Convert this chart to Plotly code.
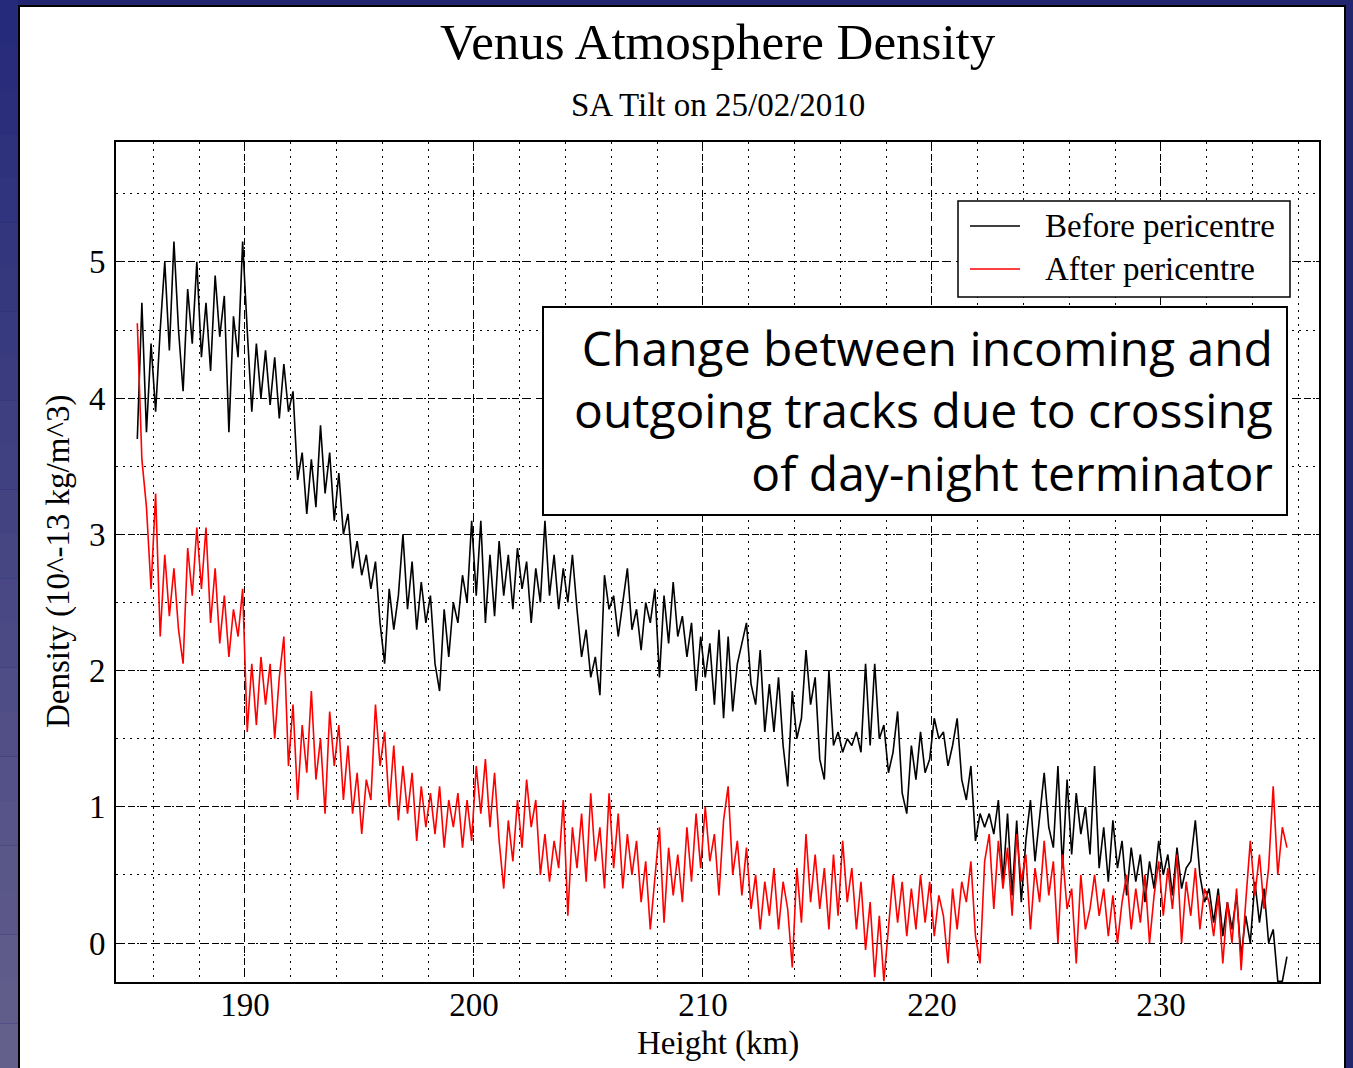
import plotly.graph_objects as go

# ---------------- data ----------------
height_start = 185.3   # km, first sample
height_step = 0.2      # km between samples

before_pericentre = [
    3.7, 4.7, 3.75, 4.4, 3.9,
    4.5, 5.0, 4.35, 5.15, 4.5,
    4.05, 4.8, 4.4, 5.0, 4.3,
    4.7, 4.2, 4.9, 4.45, 4.75,
    3.75, 4.6, 4.3, 5.15, 4.5,
    3.9, 4.4, 4.0, 4.35, 3.95,
    4.3, 3.85, 4.25, 3.9, 4.05,
    3.4, 3.6, 3.15, 3.55, 3.2,
    3.8, 3.3, 3.6, 3.1, 3.45,
    3.0, 3.15, 2.75, 2.95, 2.7,
    2.85, 2.6, 2.8, 2.35, 2.05,
    2.6, 2.3, 2.55, 3.0, 2.45,
    2.8, 2.3, 2.65, 2.35, 2.55,
    2.05, 1.85, 2.45, 2.1, 2.5,
    2.35, 2.7, 2.5, 3.1, 2.55,
    3.1, 2.35, 2.85, 2.4, 2.95,
    2.55, 2.85, 2.45, 2.9, 2.6,
    2.8, 2.35, 2.75, 2.5, 3.1,
    2.55, 2.85, 2.45, 2.75, 2.5,
    2.85, 2.45, 2.1, 2.3, 1.95,
    2.1, 1.82, 2.7, 2.45, 2.55,
    2.25, 2.5, 2.75, 2.3, 2.45,
    2.15, 2.5, 2.35, 2.6, 1.95,
    2.55, 2.2, 2.65, 2.25, 2.4,
    2.1, 2.35, 1.85, 2.25, 1.95,
    2.2, 1.75, 2.3, 1.65, 2.25,
    1.7, 2.05, 2.2, 2.35, 1.9,
    1.75, 2.15, 1.55, 1.9, 1.55,
    1.95, 1.45, 1.15, 1.85, 1.5,
    1.65, 2.15, 1.75, 1.95, 1.35,
    1.2, 2.0, 1.45, 1.55, 1.4,
    1.5, 1.45, 1.55, 1.4, 2.05,
    1.45, 2.05, 1.5, 1.6, 1.25,
    1.4, 1.7, 1.1, 0.95, 1.45,
    1.2, 1.55, 1.25, 1.35, 1.65,
    1.5, 1.55, 1.3, 1.45, 1.65,
    1.2, 1.05, 1.3, 0.75, 0.95,
    0.85, 0.95, 0.8, 1.05, 0.45,
    0.95, 0.35, 0.9, 0.3, 0.75,
    1.05, 0.6, 0.95, 1.25, 0.85,
    0.7, 1.3, 0.55, 1.2, 0.65,
    1.1, 0.8, 1.0, 0.65, 1.3,
    0.55, 0.85, 0.45, 0.9, 0.55,
    0.75, 0.35, 0.7, 0.45, 0.65,
    0.3, 0.6, 0.4, 0.75, 0.5,
    0.65, 0.35, 0.7, 0.4, 0.55,
    0.6, 0.9, 0.5, 0.3, 0.4,
    0.15, 0.4, 0.05, 0.3, 0.1,
    0.35, -0.1, 0.2, 0.0, 0.45,
    0.15, 0.4, 0.0, 0.1, -0.28,
    -0.28, -0.1,
]

after_pericentre = [
    4.55, 3.55, 3.2, 2.6, 3.3,
    2.25, 2.85, 2.4, 2.75, 2.3,
    2.05, 2.9, 2.55, 3.05, 2.6,
    3.05, 2.35, 2.75, 2.2, 2.55,
    2.1, 2.45, 2.25, 2.6, 1.55,
    2.05, 1.6, 2.1, 1.75, 2.05,
    1.5, 1.95, 2.25, 1.3, 1.75,
    1.05, 1.6, 1.25, 1.85, 1.2,
    1.5, 0.95, 1.7, 1.3, 1.6,
    1.05, 1.45, 0.95, 1.25, 0.8,
    1.2, 1.05, 1.75, 1.3, 1.55,
    1.0, 1.45, 0.9, 1.3, 0.95,
    1.25, 0.75, 1.15, 0.85, 1.1,
    0.8, 1.15, 0.7, 1.05, 0.85,
    1.1, 0.7, 1.05, 0.75, 1.3,
    0.95, 1.35, 0.85, 1.25, 0.75,
    0.4, 0.9, 0.6, 1.05, 0.7,
    1.2, 0.85, 1.05, 0.5, 0.8,
    0.45, 0.75, 0.55, 1.05, 0.2,
    0.85, 0.55, 0.95, 0.45, 1.1,
    0.6, 0.85, 0.4, 1.1, 0.55,
    0.95, 0.4, 0.8, 0.5, 0.75,
    0.3, 0.6, 0.1, 0.45, 0.85,
    0.15, 0.7, 0.35, 0.65, 0.3,
    0.85, 0.45, 0.95, 0.55, 1.0,
    0.6, 0.8, 0.35, 0.9, 1.15,
    0.5, 0.75, 0.35, 0.7, 0.25,
    0.5, 0.1, 0.45, 0.2, 0.55,
    0.1, 0.45, 0.25, -0.18, 0.55,
    0.15, 0.8, 0.3, 0.65, 0.25,
    0.55, 0.1, 0.65, 0.2, 0.75,
    0.3, 0.55, 0.1, 0.45, -0.05,
    0.3, -0.25, 0.2, -0.28, 0.1,
    0.5, 0.15, 0.45, 0.05, 0.4,
    0.1, 0.5, 0.15, 0.45, 0.05,
    0.35, 0.2, -0.15, 0.4, 0.1,
    0.45, 0.3, 0.6, 0.05, -0.15,
    0.6, 0.8, 0.25, 0.75, 0.4,
    0.7, 0.2, 0.8, 0.45, 0.65,
    0.1, 0.55, 0.3, 0.75, 0.35,
    0.6, 0.0, 0.65, 0.25, 0.4,
    -0.15, 0.5, 0.1, 0.25, 0.5,
    0.2, 0.4, 0.05, 0.35, 0.0,
    0.3, 0.5, 0.1, 0.4, 0.15,
    0.5, 0.0, 0.35, 0.6, 0.2,
    0.55, 0.25, 0.65, 0.0, 0.45,
    0.2, 0.55, 0.1, 0.4, 0.3,
    0.05, 0.35, -0.15, 0.3, 0.0,
    0.4, -0.2, 0.3, 0.75, 0.35,
    0.65, 0.25, 0.55, 1.15, 0.5,
    0.85, 0.7,
]

series_names = ["Before pericentre", "After pericentre"]
series_colors = ["black", "#ff0000"]
x_tick_values = [190, 200, 210, 220, 230]
y_tick_values = [0, 1, 2, 3, 4, 5]

heights = [round(height_start + height_step * i, 2) for i in range(len(before_pericentre))]

# ---------------- styling ----------------
W, H = 1353, 1068
ML, MR, MT, MB = 116, 34, 142, 86
PW, PH = W - ML - MR, H - MT - MB
SERIF = "Liberation Serif, Times New Roman, serif"


def px_x(p):
    return (p - ML) / PW


def px_y(p):
    return (H - MB - p) / PH


fig = go.Figure()
for name, vals, col in zip(series_names, [before_pericentre, after_pericentre], series_colors):
    fig.add_trace(go.Scatter(x=heights, y=vals, mode="lines", name=name,
                             showlegend=False,
                             line=dict(color=col, width=1.6)))

shapes = []
# slide-like background: white panel with black border
shapes.append(dict(type="rect", xref="paper", yref="paper",
                   x0=px_x(19), x1=px_x(1345), y0=px_y(1080), y1=px_y(6),
                   fillcolor="white", line=dict(color="black", width=2),
                   layer="below"))
# left gradient strip
top_rgb = (38, 42, 122)
bot_rgb = (100, 96, 140)
nb = 24
for i in range(nb):
    t = i / (nb - 1)
    c = tuple(int(top_rgb[k] + (bot_rgb[k] - top_rgb[k]) * t) for k in range(3))
    y0p = i * H / nb
    y1p = (i + 1) * H / nb
    shapes.append(dict(type="rect", xref="paper", yref="paper",
                       x0=px_x(0), x1=px_x(18), y0=px_y(y1p), y1=px_y(y0p),
                       fillcolor="rgb(%d,%d,%d)" % c, line=dict(width=0),
                       layer="below"))
# legend box (drawn manually for exact placement)
shapes.append(dict(type="rect", xref="paper", yref="paper",
                   x0=px_x(958), x1=px_x(1290), y0=px_y(297), y1=px_y(201),
                   fillcolor="white", line=dict(color="black", width=1.5),
                   layer="above"))
legend_rows_px = [226, 269]
for row, col in zip(legend_rows_px, series_colors):
    shapes.append(dict(type="line", xref="paper", yref="paper",
                       x0=px_x(970), x1=px_x(1020), y0=px_y(row), y1=px_y(row),
                       line=dict(color=col, width=1.5), layer="above"))
# annotation box
shapes.append(dict(type="rect", xref="paper", yref="paper",
                   x0=px_x(543), x1=px_x(1287), y0=px_y(515), y1=px_y(307),
                   fillcolor="white", line=dict(color="black", width=2),
                   layer="above"))

annotations = [
    dict(text="Venus Atmosphere Density", xref="paper", yref="paper",
         x=px_x(718), y=px_y(42), xanchor="center", yanchor="middle",
         showarrow=False, font=dict(family=SERIF, size=51, color="black")),
    dict(text="SA Tilt on 25/02/2010", xref="paper", yref="paper",
         x=px_x(718), y=px_y(105), xanchor="center", yanchor="middle",
         showarrow=False, font=dict(family=SERIF, size=33, color="black")),
    dict(text="Height (km)", xref="paper", yref="paper",
         x=px_x(718), y=px_y(1043), xanchor="center", yanchor="middle",
         showarrow=False, font=dict(family=SERIF, size=33, color="black")),
    dict(text="Density (10^-13 kg/m^3)", xref="paper", yref="paper",
         x=px_x(58), y=px_y(562), xanchor="center", yanchor="middle",
         textangle=-90, showarrow=False,
         font=dict(family=SERIF, size=33, color="black")),
    dict(text="Change between incoming and<br>outgoing tracks due to crossing<br>of day-night terminator",
         xref="paper", yref="paper", x=px_x(1275), y=px_y(410),
         xanchor="right", yanchor="middle", align="right", showarrow=False,
         font=dict(family="Open Sans, Noto Sans, sans-serif", size=48, color="black")),
]
for row, name in zip(legend_rows_px, series_names):
    annotations.append(dict(text=name, xref="paper", yref="paper",
                            x=px_x(1043), y=px_y(row), xanchor="left",
                            yanchor="middle", showarrow=False,
                            font=dict(family=SERIF, size=33, color="black")))

axis_common = dict(showgrid=True, gridcolor="black", gridwidth=1.3,
                   griddash="7px,5px", zeroline=False, showline=True,
                   mirror=True, linecolor="black", linewidth=2, ticks="",
                   tickfont=dict(family=SERIF, size=33, color="black"))

fig.update_layout(
    width=W, height=H, autosize=False,
    margin=dict(l=ML, r=MR, t=MT, b=MB),
    paper_bgcolor="rgb(34,38,112)", plot_bgcolor="white",
    showlegend=False,
    xaxis=dict(range=[184.37, 236.9], tickvals=x_tick_values,
               ticklabelstandoff=-8,
               minor=dict(dtick=2, tick0=186, showgrid=True, gridcolor="black",
                          griddash="2px,5px", gridwidth=1.2),
               **axis_common),
    yaxis=dict(range=[-0.286, 5.88], tickvals=y_tick_values,
               ticklabelstandoff=2,
               minor=dict(dtick=0.5, tick0=0, showgrid=True, gridcolor="black",
                          griddash="2px,5px", gridwidth=1.2),
               **axis_common),
    shapes=shapes,
    annotations=annotations,
)

fig.write_html("out.html")
